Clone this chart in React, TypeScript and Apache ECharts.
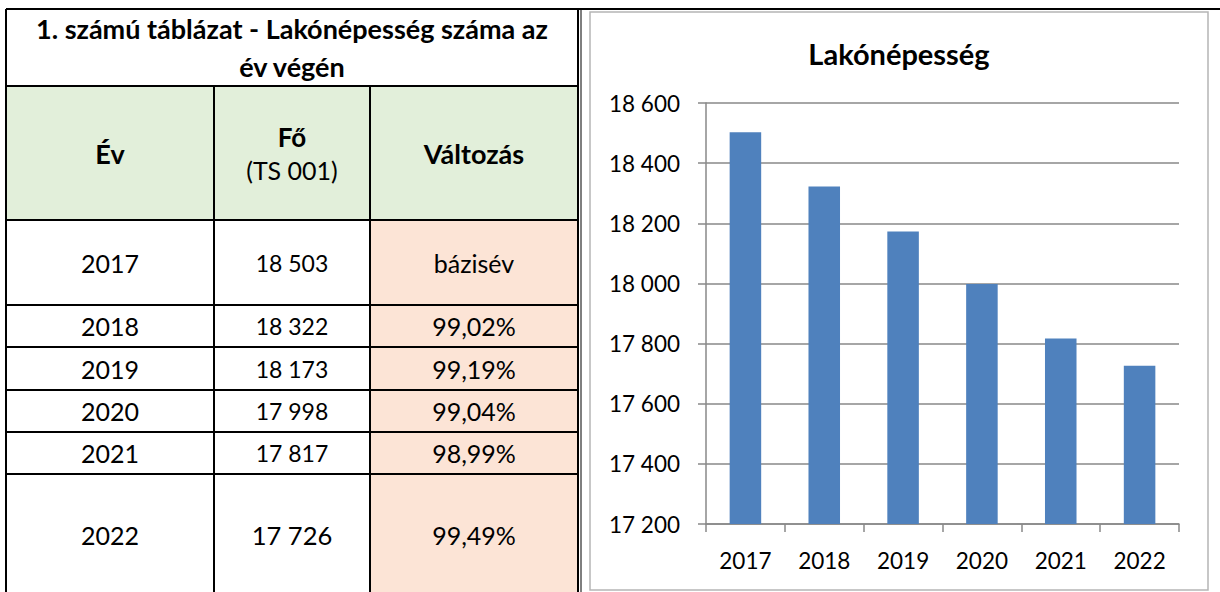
import React, { useEffect, useRef } from "react";
import * as echarts from "echarts";

const years = ["2017", "2018", "2019", "2020", "2021", "2022"];
const population = [18503, 18322, 18173, 17998, 17817, 17726];
const changeLabels = ["bázisév", "99,02%", "99,19%", "99,04%", "98,99%", "99,49%"];
const tableTitleLines = ["1. számú táblázat - Lakónépesség száma az", "év végén"];
const headerYear = "Év";
const headerPop = "Fő";
const headerPopSub = "(TS 001)";
const headerChange = "Változás";
const chartTitle = "Lakónépesség";
const yMin = 17200;
const yMax = 18600;
const yStep = 200;

const FONT = "Lato, 'Open Sans', sans-serif";
const fmt = (v: number) => String(Math.round(v)).replace(/\B(?=(\d{3})+(?!\d))/g, " ");

// table geometry
const TL = 6, TR = 578;
const colX = [6, 214, 370, 578];
const rowY = [220, 305, 347, 390, 432, 474, 600];

function txt(text: string, x: number, y: number, size: number, weight: string = "normal") {
  return {
    type: "text",
    z: 10,
    style: {
      text,
      x,
      y,
      fill: "#000",
      font: `${weight} ${size}px ${FONT}`,
      align: "center",
      verticalAlign: "middle",
      textAlign: "center",
      textVerticalAlign: "middle",
    },
  };
}
function ln(x1: number, y1: number, x2: number, y2: number, w = 2, c = "#000") {
  return { type: "line", z: 5, shape: { x1, y1, x2, y2 }, style: { stroke: c, lineWidth: w } };
}

export default function App() {
  const ref = useRef<HTMLDivElement>(null);
  useEffect(() => {
    if (!ref.current) return;
    const chart = echarts.init(ref.current, null, { renderer: "svg" });
    const g: any[] = [];
    // fills
    g.push({ type: "rect", z: 1, shape: { x: TL, y: 86, width: TR - TL, height: 134 }, style: { fill: "#E2EFDA" } });
    g.push({ type: "rect", z: 1, shape: { x: colX[2], y: 220, width: TR - colX[2], height: 380 }, style: { fill: "#FCE4D6" } });
    // chart frame
    g.push({ type: "rect", z: 2, shape: { x: 590, y: 12, width: 618, height: 578 }, style: { fill: "none", stroke: "#b5b5b5", lineWidth: 1.5 } });
    // borders
    g.push(ln(TL, 9, 1220, 9));
    g.push(ln(TL, 9, TL, 600));
    g.push(ln(TR, 9, TR, 600));
    g.push(ln(581, 9, 581, 600, 1));
    g.push(ln(TL, 86, TR, 86));
    rowY.slice(0, -1).forEach((y) => g.push(ln(TL, y, TR, y)));
    g.push(ln(colX[1], 86, colX[1], 600));
    g.push(ln(colX[2], 86, colX[2], 600));
    // title texts
    g.push(txt(tableTitleLines[0], 292, 28, 27, "bold"));
    g.push(txt(tableTitleLines[1], 292, 66, 27, "bold"));
    // header
    const cx = [(colX[0] + colX[1]) / 2, (colX[1] + colX[2]) / 2, (colX[2] + colX[3]) / 2];
    g.push(txt(headerYear, cx[0], 153, 27, "bold"));
    g.push(txt(headerPop, cx[1], 137, 26, "bold"));
    g.push(txt(headerPopSub, cx[1], 170, 25));
    g.push(txt(headerChange, cx[2], 153, 27, "bold"));
    // rows
    years.forEach((yr, i) => {
      const yc = i === years.length - 1 ? 535 : (rowY[i] + rowY[i + 1]) / 2;
      g.push(txt(yr, cx[0], yc, 25));
      g.push(txt(fmt(population[i]), cx[1], yc, i === years.length - 1 ? 25.5 : 23));
      g.push(txt(changeLabels[i], cx[2], yc, 25));
    });
    // chart title
    g.push(txt(chartTitle, 899, 53, 29, "bold"));

    chart.setOption({
      animation: false,
      grid: { left: 706, right: 41, top: 103, bottom: 68, containLabel: false },
      xAxis: {
        type: "category",
        data: years,
        axisLine: { lineStyle: { color: "#888", width: 1.5 } },
        axisTick: { show: true, length: 8, lineStyle: { color: "#888", width: 1.5 } },
        axisLabel: { color: "#000", fontFamily: FONT, fontSize: 22.5, margin: 25 },
      },
      yAxis: {
        type: "value",
        min: yMin,
        max: yMax,
        interval: yStep,
        axisLine: { show: true, lineStyle: { color: "#888", width: 1.5 } },
        axisTick: { show: true, length: 8, lineStyle: { color: "#888", width: 1.5 } },
        splitLine: { show: true, lineStyle: { color: "#888", width: 1.5 } },
        axisLabel: { color: "#000", fontFamily: FONT, fontSize: 22.5, margin: 26, formatter: (v: number) => fmt(v) },
      },
      series: [
        {
          type: "bar",
          name: chartTitle,
          data: population,
          barCategoryGap: "60%",
          itemStyle: { color: "#4F81BD" },
          z: 3,
        },
      ],
      graphic: g,
    });
    return () => chart.dispose();
  }, []);
  return <div ref={ref} style={{ position: "fixed", left: 0, top: 0, width: 1220, height: 592, background: "#fff" }} />;
}
